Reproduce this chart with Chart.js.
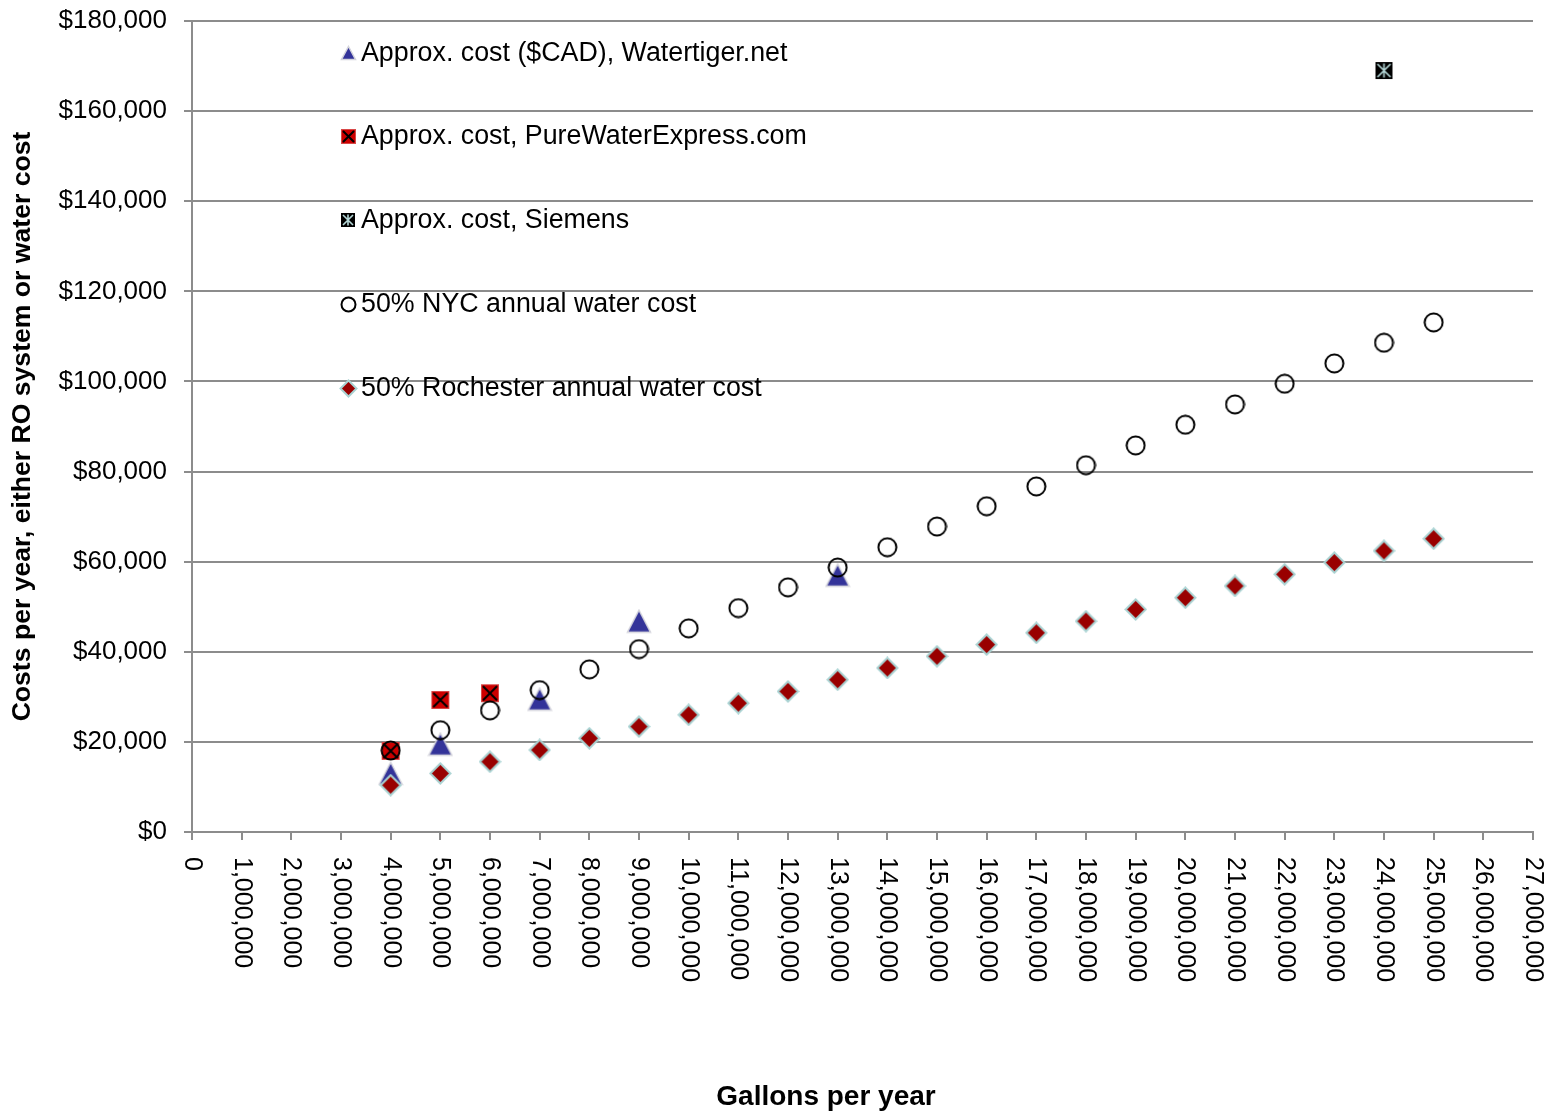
<!DOCTYPE html>
<html><head><meta charset="utf-8">
<script src="https://cdn.jsdelivr.net/npm/chart.js@4.4.1/dist/chart.umd.min.js"></script>
<style>html,body{margin:0;padding:0;background:#fff}#wrap{width:1557px;height:1114px;position:relative}</style>
</head><body><div id="wrap"><canvas id="c"></canvas></div>
<script>
// ---- data ----
const seriesLabels = [
  'Approx. cost ($CAD), Watertiger.net',
  'Approx. cost, PureWaterExpress.com',
  'Approx. cost, Siemens',
  '50% NYC annual water cost',
  '50% Rochester annual water cost'
];
const watertigerGallons = [4000000, 5000000, 7000000, 9000000, 13000000];
const watertigerCost    = [13000, 19500, 29500, 46800, 57000];
const pureWaterGallons  = [4000000, 5000000, 6000000];
const pureWaterCost     = [18000, 29300, 30800];
const siemensGallons    = [24000000];
const siemensCost       = [169000];
const cityGallons = [4000000,5000000,6000000,7000000,8000000,9000000,10000000,11000000,12000000,13000000,14000000,15000000,16000000,17000000,18000000,19000000,20000000,21000000,22000000,23000000,24000000,25000000];
const nycCost       = [18100,22600,27000,31500,36100,40600,45200,49700,54300,58700,63200,67800,72300,76700,81400,85800,90400,94900,99500,104000,108600,113100];
const rochesterCost = [10400,13000,15600,18200,20800,23400,26000,28600,31200,33800,36400,39000,41600,44200,46800,49400,52000,54600,57200,59800,62400,65100];
const xAxisTitle = 'Gallons per year';
const yAxisTitle = 'Costs per year, either RO system or water cost';
const xMin = 0, xMax = 27000000, xStep = 1000000;
const yMin = 0, yMax = 180000, yStep = 20000;

// ---- marker images ----
function mk(w, h, draw) { const c = document.createElement('canvas'); c.width = w; c.height = h; draw(c.getContext('2d'), w, h); return c; }
function triangleImg(s) { return mk(s + 4, s + 3, (g, w, h) => { g.beginPath(); g.moveTo(w / 2, 1.5); g.lineTo(w - 1.5, h - 1.5); g.lineTo(1.5, h - 1.5); g.closePath(); g.fillStyle = '#333399'; g.fill(); g.strokeStyle = '#d4d4dc'; g.lineWidth = 1.5; g.stroke(); }); }
function redSquareImg(s) { return mk(s + 2, s + 2, (g, w, h) => { g.fillStyle = '#cc0000'; g.fillRect(1, 1, s, s); g.strokeStyle = '#d84848'; g.lineWidth = 1; g.strokeRect(1.5, 1.5, s - 1, s - 1); g.strokeStyle = '#000'; g.lineWidth = 2; g.beginPath(); g.moveTo(3, 3); g.lineTo(w - 3, h - 3); g.moveTo(w - 3, 3); g.lineTo(3, h - 3); g.stroke(); }); }
function siemensImg(s) { return mk(s + 2, s + 2, (g, w, h) => { g.fillStyle = '#000'; g.fillRect(1, 1, s, s); g.strokeStyle = '#b4d6d6'; g.lineWidth = 1.6; g.beginPath(); g.moveTo(3, 3); g.lineTo(w - 3, h - 3); g.moveTo(w - 3, 3); g.lineTo(3, h - 3); g.moveTo(w / 2, 2.5); g.lineTo(w / 2, h - 2.5); g.stroke(); }); }
function circleImg(s) { return mk(s + 3, s + 3, (g, w, h) => { g.beginPath(); g.arc(w / 2, h / 2, s / 2, 0, Math.PI * 2); g.strokeStyle = '#000'; g.lineWidth = 2; g.stroke(); }); }
function diamondImg(s) { return mk(s + 3, s + 3, (g, w, h) => { g.beginPath(); g.moveTo(w / 2, 1.5); g.lineTo(w - 1.5, h / 2); g.lineTo(w / 2, h - 1.5); g.lineTo(1.5, h / 2); g.closePath(); g.fillStyle = '#990000'; g.fill(); g.strokeStyle = '#a8d2d2'; g.lineWidth = 2; g.stroke(); }); }

const plotMarkers = [triangleImg(22), redSquareImg(18), siemensImg(17), circleImg(18), diamondImg(20)];
const legendMarkers = [triangleImg(13), redSquareImg(15), siemensImg(14), circleImg(14), diamondImg(16)];

function pts(xs, ys) { return xs.map((x, i) => ({ x: x, y: ys[i] })); }
const fmtNum = v => Number(v).toLocaleString('en-US');

const GRID = '#8c8c8c';
const FONT = '"Liberation Sans", Arial, sans-serif';

const overlay = {
  id: 'overlay',
  afterDraw(chart) {
    const ctx = chart.ctx, xs = chart.scales.x, area = chart.chartArea;
    ctx.save();
    ctx.fillStyle = '#000';
    // rotated x tick labels (reading top to bottom)
    ctx.font = '25px ' + FONT;
    ctx.textAlign = 'left';
    ctx.textBaseline = 'middle';
    xs.ticks.forEach(t => {
      const px = xs.getPixelForValue(t.value);
      ctx.save();
      ctx.translate(px, area.bottom + 25);
      ctx.rotate(Math.PI / 2);
      ctx.fillText(fmtNum(t.value), 0, 0);
      ctx.restore();
    });
    // x axis title
    ctx.font = 'bold 28px ' + FONT;
    ctx.textAlign = 'center';
    ctx.fillText(xAxisTitle, 826, 1097);
    // legend inside plot area
    const offs = [32, 115, 199, 283, 367];
    ctx.font = '26.8px ' + FONT;
    ctx.textAlign = 'left';
    seriesLabels.forEach((lab, i) => {
      const img = legendMarkers[i];
      const cx = area.left + 156, cy = area.top + offs[i];
      ctx.drawImage(img, Math.round(cx - img.width / 2), Math.round(cy - img.height / 2));
      ctx.fillText(lab, area.left + 169, cy + 1);
    });
    ctx.restore();
  }
};

const datasets = [
  { label: seriesLabels[0], data: pts(watertigerGallons, watertigerCost), pointStyle: plotMarkers[0], order: 5 },
  { label: seriesLabels[1], data: pts(pureWaterGallons, pureWaterCost), pointStyle: plotMarkers[1], order: 4 },
  { label: seriesLabels[2], data: pts(siemensGallons, siemensCost), pointStyle: plotMarkers[2], order: 3 },
  { label: seriesLabels[3], data: pts(cityGallons, nycCost), pointStyle: plotMarkers[3], order: 2 },
  { label: seriesLabels[4], data: pts(cityGallons, rochesterCost), pointStyle: plotMarkers[4], order: 1 }
];

new Chart(document.getElementById('c'), {
  type: 'scatter',
  data: { datasets: datasets },
  options: {
    responsive: true,
    maintainAspectRatio: false,
    animation: false,
    layout: { padding: { top: 21, right: 24, left: 0, bottom: 0 } },
    plugins: { legend: { display: false }, tooltip: { enabled: false } },
    scales: {
      x: {
        type: 'linear', min: xMin, max: xMax,
        afterFit: s => { s.height = 282; s.paddingLeft = 0; s.paddingRight = 0; },
        ticks: { display: false, stepSize: xStep, maxTicksLimit: 100 },
        grid: { display: true, drawOnChartArea: false, drawTicks: true, tickLength: 8, color: GRID, lineWidth: 2 },
        border: { display: true, color: GRID, width: 2 }
      },
      y: {
        type: 'linear', min: yMin, max: yMax,
        afterFit: s => { s.width = 192; s.paddingTop = 0; s.paddingBottom = 0; },
        ticks: { stepSize: yStep, padding: 17, color: '#000', font: { family: FONT, size: 26 }, callback: v => '$' + fmtNum(v) },
        grid: { color: GRID, lineWidth: 2, tickLength: 8 },
        border: { display: true, color: GRID, width: 2 },
        title: { display: true, text: yAxisTitle, color: '#000', font: { family: FONT, size: 26.6, weight: 'bold' }, padding: { top: 7, bottom: 0 } }
      }
    }
  },
  plugins: [overlay]
});
</script>
</body></html>
